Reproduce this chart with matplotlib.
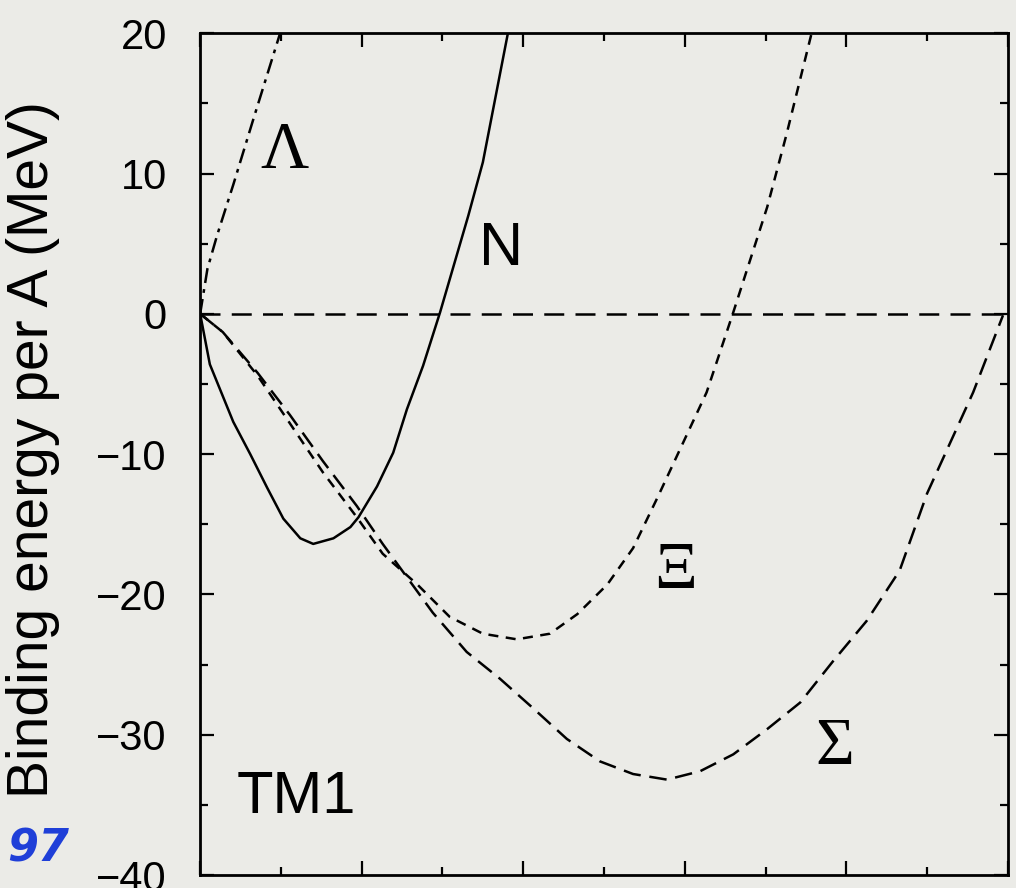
import matplotlib
matplotlib.use("Agg")
import matplotlib.pyplot as plt
from matplotlib.ticker import MultipleLocator, NullFormatter

# baryon density (x, 0..1) and binding energy per A (MeV)
rho_N = [0.0, 0.012, 0.041, 0.062, 0.083, 0.103, 0.124, 0.140, 0.165, 0.186,
         0.196, 0.219, 0.239, 0.256, 0.276, 0.297, 0.332, 0.350, 0.381]
E_N = [0.0, -3.6, -7.7, -10.0, -12.4, -14.6, -16.0, -16.4, -16.0, -15.2,
       -14.5, -12.3, -9.9, -6.8, -3.7, 0.1, 7.0, 10.8, 20.0]

rho_L = [0.0, 0.009, 0.021, 0.041, 0.066, 0.099]
E_L = [0.0, 3.2, 5.6, 9.2, 13.9, 20.0]

rho_X = [0.0, 0.028, 0.071, 0.111, 0.152, 0.194, 0.226, 0.269, 0.309, 0.350,
         0.392, 0.433, 0.467, 0.504, 0.536, 0.567, 0.627, 0.660, 0.702, 0.726, 0.757]
E_X = [0.0, -1.3, -4.4, -7.8, -11.3, -14.5, -17.1, -19.3, -21.6, -22.8,
       -23.2, -22.8, -21.4, -19.3, -16.7, -13.0, -5.6, 0.1, 7.6, 12.8, 20.0]

rho_S = [0.0, 0.028, 0.071, 0.111, 0.152, 0.194, 0.226, 0.288, 0.330, 0.371,
         0.412, 0.454, 0.495, 0.536, 0.578, 0.619, 0.660, 0.702, 0.743, 0.783,
         0.825, 0.866, 0.900, 0.957, 0.994]
E_S = [0.0, -1.3, -4.2, -7.2, -10.5, -13.7, -16.4, -21.3, -24.1, -26.0,
       -28.1, -30.3, -31.9, -32.8, -33.2, -32.6, -31.4, -29.6, -27.7, -24.8,
       -21.9, -18.3, -12.8, -5.6, -0.1]

# curve labels and where they sit (data coords)
labels = ["Λ", "N", "Ξ", "Σ"]
label_x = [0.104, 0.372, 0.588, 0.786]
label_y = [11.6, 4.6, -18.4, -30.9]

paper = "#ebebe7"
sans = ["Liberation Sans", "DejaVu Sans"]
serif = ["Liberation Serif", "DejaVu Serif"]

fig = plt.figure(figsize=(10.16, 8.88), dpi=100, facecolor=paper)
ax = fig.add_axes([0.197, 0.0146, 0.795, 0.948], facecolor=paper)

lw = 1.8
ax.axhline(0, color="black", lw=lw, dashes=(8, 4.5))
ax.plot(rho_N, E_N, color="black", lw=lw)
ax.plot(rho_L, E_L, color="black", lw=lw, dashes=(6, 2.5, 1.5, 2.5))
ax.plot(rho_X, E_X, color="black", lw=lw, dashes=(4, 3))
ax.plot(rho_S, E_S, color="black", lw=lw, dashes=(7, 3.5))

for txt, x, y in zip(labels, label_x, label_y):
    if txt == "N":
        ax.text(x, y, txt, family=sans, fontsize=44, ha="center", va="center")
    else:
        ax.text(x, y, txt, family=serif, fontsize=48, ha="center", va="center")
ax.text(0.119, -34.5, "TM1", family=sans, fontsize=43, ha="center", va="center")

ax.set_xlim(0, 1.0)
ax.set_ylim(-40, 20)
ax.xaxis.set_major_locator(MultipleLocator(0.2))
ax.xaxis.set_minor_locator(MultipleLocator(0.1))
ax.xaxis.set_major_formatter(NullFormatter())
ax.yaxis.set_major_locator(MultipleLocator(10))
ax.yaxis.set_minor_locator(MultipleLocator(5))
ax.tick_params(which="both", direction="in", top=True, right=True, width=1.6)
ax.tick_params(which="major", length=10)
ax.tick_params(which="minor", length=6)
ax.tick_params(axis="y", labelsize=30, pad=24)
for lab in ax.get_yticklabels():
    lab.set_family(sans)
for s in ax.spines.values():
    s.set_linewidth(2.0)

fig.text(0.032, 0.494, "Binding energy per A (MeV)", family=sans, fontsize=41,
         rotation=90, ha="center", va="center")
fig.text(0.038, 0.044, "97", color="#1f3fd8", fontsize=32, fontweight="bold",
         style="italic", ha="center", va="center")

fig.savefig("out.png", dpi=100, facecolor=paper)
